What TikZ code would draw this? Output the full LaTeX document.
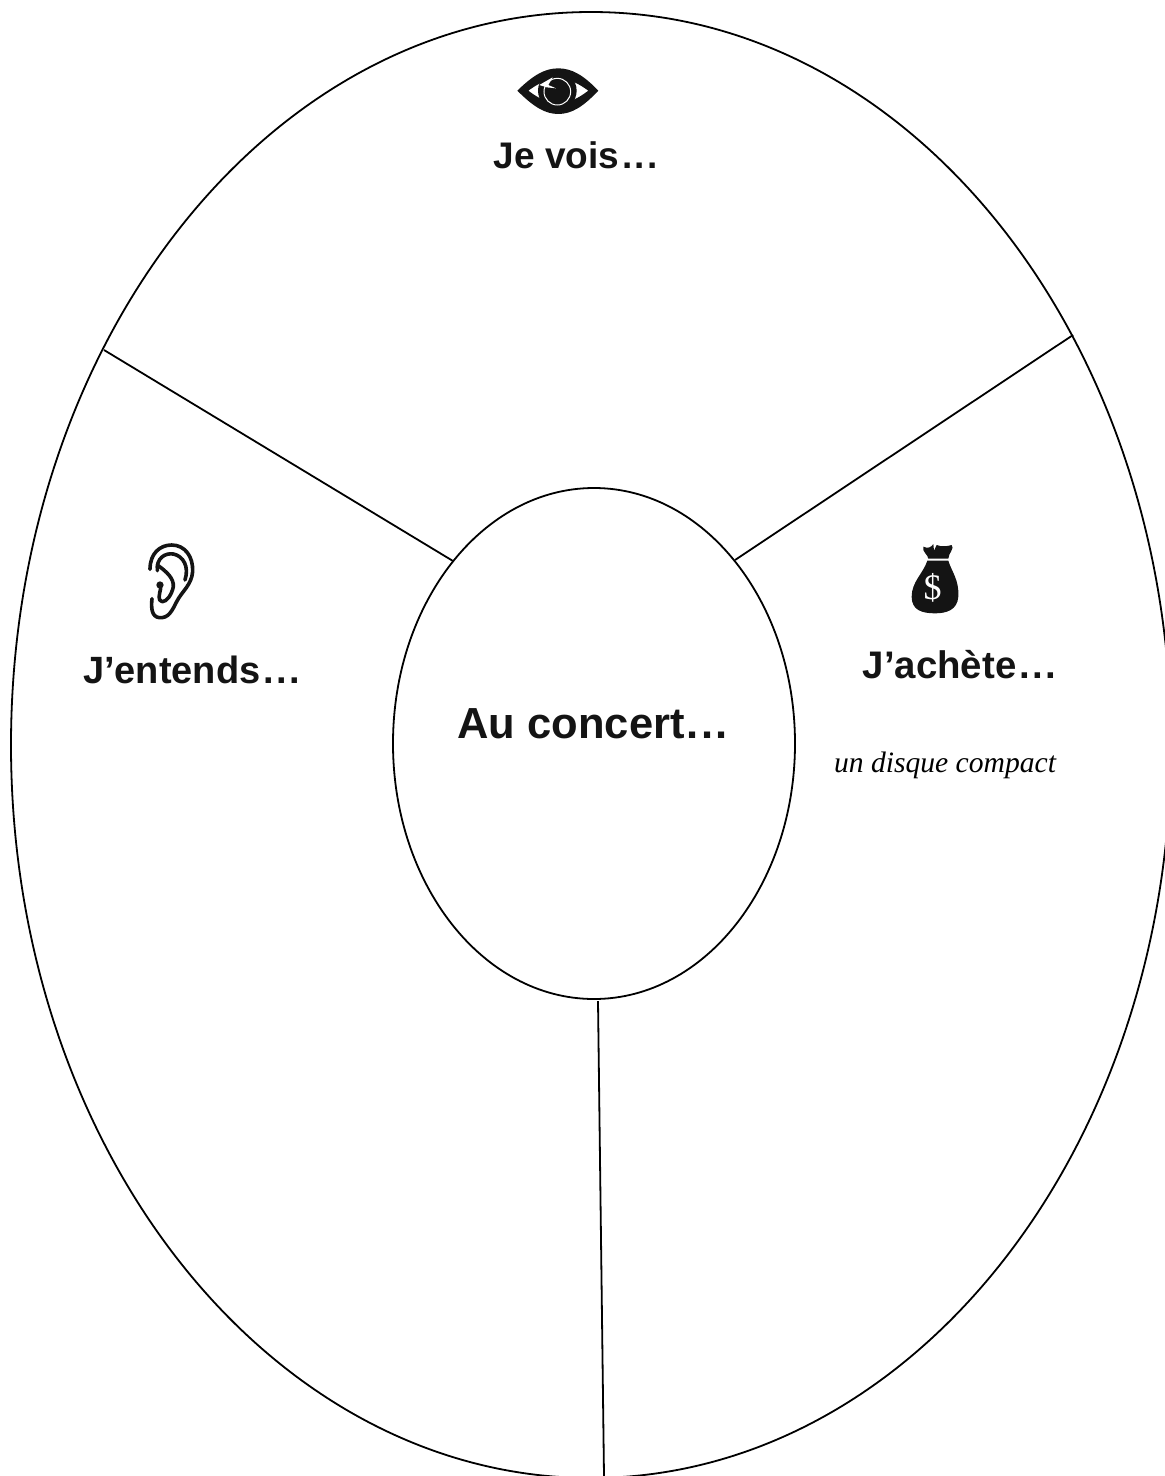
\documentclass[tikz,border=0pt]{standalone}
\usepackage{fontspec}
\setmainfont{Liberation Sans}
\newfontfamily\serifit{Liberation Serif}
\usetikzlibrary{shapes.geometric}
\newcommand{\spdots}[1]{\kern#1.\kern#1.\kern#1.}
\tikzset{
  ring/.style={draw=black,ellipse,line width=1.8pt,inner sep=0pt,outer sep=0pt},
  spoke/.style={draw=black,line width=1.8pt},
  head/.style={inner sep=0pt,font=\fontsize{#1}{#1}\selectfont\bfseries,text=black!92},
  icon/.style={line width=3.6pt,line cap=round,line join=round,draw=black!92},
}
\begin{document}
\begin{tikzpicture}[x=1pt,y=-1pt]
\useasboundingbox (0,0) rectangle (1165,1476);
\clip (0,0) rectangle (1165,1476);
\node[ring,minimum width=1160pt,minimum height=1466pt] (outer) at (591,745) {};
\node[ring,minimum width=402pt,minimum height=511pt] (inner) at (594,743.5) {};
\coordinate (ia) at (453,561);
\coordinate (oa) at (104,350);
\coordinate (ib) at (735,560);
\coordinate (ob) at (1073,335);
\coordinate (ic) at (598,1001);
\coordinate (oc) at (604,1476);
\draw[spoke] (ia) -- (oa);
\draw[spoke] (ib) -- (ob);
\draw[spoke] (ic) -- (oc);
\node[head=37] (vois) at (576,155) {Je vois\spdots{2.6pt}};
\node[head=38] (entends) at (191.5,670) {J’entends\spdots{2.6pt}};
\node[head=38.4] (achete) at (959.5,665) {J’achète\spdots{2.6pt}};
\node[head=43.5] (concert) at (592.5,724) {Au concert\spdots{2.2pt}};
\node[inner sep=0pt,font=\serifit\itshape\fontsize{29.6}{30}\selectfont] (disque) at (945,765) {un disque compact};
% eye
\begin{scope}[shift={(480,50)},x=0.3333pt,y=-0.3333pt]
\fill[black!92,even odd rule] (112,122) .. controls (160,75) and (195,55) .. (235,55) .. controls (275,55) and (310,75) .. (355,122) .. controls (310,170) and (275,192) .. (235,192) .. controls (195,192) and (160,170) .. (112,122) -- cycle
 (145,122) .. controls (175,145) and (205,160) .. (235,160) .. controls (265,160) and (295,145) .. (325,122) .. controls (295,100) and (265,85) .. (235,85) .. controls (205,85) and (175,100) .. (145,122) -- cycle;
\fill[black!92] (232,122) circle (58);
\draw[white,line width=1pt] (232,125) circle (40);
\fill[white] (178,105) -- (218,82) -- (205,105) -- (228,115) -- (200,112) -- cycle;
\end{scope}
% ear
\begin{scope}[shift={(70,530)},x=0.3333pt,y=-0.3333pt]
\draw[icon] (240,118) .. controls (240,70) and (270,45) .. (305,45) .. controls (345,45) and (370,80) .. (368,125) .. controls (365,165) and (335,185) .. (320,215) .. controls (305,245) and (295,265) .. (268,263) .. controls (245,260) and (243,235) .. (246,206);
\draw[icon] (262,122) .. controls (258,85) and (285,68) .. (310,72) .. controls (340,78) and (358,110) .. (345,150) ;
\draw[icon] (262,105) .. controls (290,125) and (312,145) .. (310,170) .. controls (305,195) and (290,215) .. (277,215) .. controls (262,212) and (268,195) .. (272,175);
\fill[black!92] (270,165) circle (11);
\end{scope}
% money bag
\begin{scope}[shift={(820,530)},x=0.3333pt,y=-0.3333pt]
\fill[black!92] (310,50) .. controls (325,58) and (335,50) .. (340,42) -- (342,62) -- (350,45) .. controls (365,52) and (385,48) .. (395,45) .. controls (405,55) and (385,70) .. (385,86) -- (325,86) .. controls (325,75) and (305,65) .. (310,50) -- cycle;
\fill[black!92] (322,92) -- (385,92) .. controls (395,125) and (418,150) .. (415,200) .. controls (412,240) and (380,250) .. (345,250) .. controls (305,250) and (275,240) .. (275,200) .. controls (275,155) and (310,130) .. (322,92) -- cycle;
\node[white,inner sep=0pt,font=\serifit\fontsize{36}{36}\selectfont] (dollar) at (338,172) {\$};
\end{scope}
\end{tikzpicture}
\end{document}
